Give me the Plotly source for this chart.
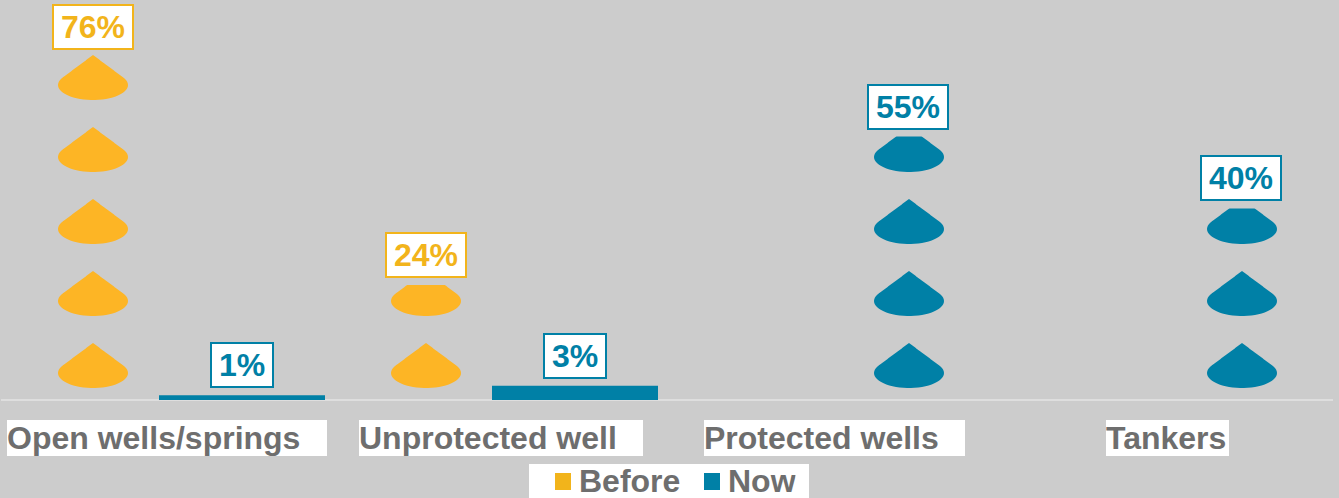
import numpy as np
import plotly.graph_objects as go

categories = ["Open wells/springs", "Unprotected well", "Protected wells", "Tankers"]
series_names = ["Before", "Now"]
before = [76, 24, 0, 0]
now = [1, 3, 55, 40]

BEFORE_ICON = "#FDB525"
BEFORE_EDGE = "#F2B41B"
NOW_COLOR = "#0080A6"
TEXT = "#6E6E6E"
BG = "#CCCCCC"
FONT = "Liberation Sans"

W, H = 1339, 498
ML, MR, MT, MB = 1, 6, 0, 98
PW, PH = W - ML - MR, H - MT - MB
CAT_PX = PW / 4
PX_PER_PCT = 4.79
CELL = 72 / PX_PER_PCT
OFFSET = 74.5 / CAT_PX
BAR_W = 166 / CAT_PX
MIN_ICON = 5


def px2x(p):
    return p / CAT_PX


def px2y(p):
    return p / PX_PER_PCT


def paper_x(p):
    return (p - ML) / PW


def paper_y(p):
    return (PH + MT - p) / PH


def icon_outline(cx, base):
    t = np.radians(np.linspace(149, 391, 40))
    ex = 35 * np.cos(t)
    ey = 15 + 15 * np.sin(t)
    # straight cone edges sampled finely so the flat-top clip stays straight
    s = np.linspace(0, 1, 30)[1:-1]
    left_x, left_y = ex[0] * s, 45 + (ey[0] - 45) * s
    right_x, right_y = ex[-1] * s[::-1], 45 + (ey[-1] - 45) * s[::-1]
    xs = np.concatenate([[0], left_x, ex, right_x, [0]])
    ys = np.concatenate([[45], left_y, ey, right_y, [45]])
    return cx + px2x(xs), base + px2y(ys)


def icons(values, shift):
    X, Y = [], []
    for i, v in enumerate(values):
        if v < MIN_ICON:
            continue
        k = 0
        while k * CELL + px2y(12) < v:
            xs, ys = icon_outline(i + shift, k * CELL + px2y(12))
            X += list(xs) + [None]
            Y += list(np.minimum(ys, v)) + [None]
            k += 1
    return X, Y


fig = go.Figure()
for name, vals, shift, icon_nudge, col in [
    (series_names[0], before, -OFFSET, 0, BEFORE_ICON),
    (series_names[1], now, OFFSET, 1, NOW_COLOR),
]:
    X, Y = icons(vals, shift + px2x(icon_nudge))
    fig.add_trace(go.Scatter(x=X, y=Y, mode="none", fill="toself", fillcolor=col, name=name,
                             showlegend=False, hoverinfo="skip"))
    small = [(i + shift, v) for i, v in enumerate(vals) if 0 < v < MIN_ICON]
    if small:
        fig.add_trace(go.Bar(x=[s[0] for s in small], y=[s[1] for s in small], name=name,
                             width=BAR_W, marker=dict(color=col, line_width=0),
                             showlegend=False))

annotations = []
for vals, shift, edge in [(before, -OFFSET, BEFORE_EDGE), (now, OFFSET, NOW_COLOR)]:
    for i, v in enumerate(vals):
        if v == 0:
            continue
        annotations.append(dict(
            x=i + shift, y=min(v, 71.7), xref="x", yref="y", text=f"<b>{v}%</b>",
            showarrow=False, yanchor="bottom", xanchor="center", yshift=7,
            font=dict(family=FONT, size=32, color=edge), bgcolor="white",
            bordercolor=edge, borderwidth=2, borderpad=0,
            width=(78 if v >= 10 else 60), height=42, align="center"))

label_boxes = [(7, 320), (359, 284), (704, 261), (1106, 123)]
for name, (left, width) in zip(categories, label_boxes):
    annotations.append(dict(
        x=paper_x(left), y=paper_y(438), xref="paper", yref="paper",
        text=f"<b>{name}</b>", showarrow=False, xanchor="left", yanchor="middle",
        font=dict(family=FONT, size=32, color=TEXT), bgcolor="white",
        width=width, height=36, align="left", borderpad=0, borderwidth=0))

shapes = [dict(type="rect", xref="paper", yref="paper", layer="below", line_width=0,
               fillcolor="white", x0=paper_x(529), x1=paper_x(809),
               y0=paper_y(464), y1=paper_y(498))]
for name, swatch_left, text_left, col in [
    (series_names[0], 555, 578, BEFORE_EDGE),
    (series_names[1], 704, 727, NOW_COLOR),
]:
    shapes.append(dict(type="rect", xref="paper", yref="paper", line_width=0, fillcolor=col,
                       x0=paper_x(swatch_left), x1=paper_x(swatch_left + 16),
                       y0=paper_y(473), y1=paper_y(490)))
    annotations.append(dict(
        x=paper_x(text_left), y=paper_y(480.5), xref="paper", yref="paper",
        text=f"<b>{name}</b>", showarrow=False, xanchor="left", yanchor="middle",
        font=dict(family=FONT, size=32, color=TEXT), height=34, borderpad=0, align="left"))

fig.update_layout(
    width=W, height=H, margin=dict(l=ML, r=MR, t=MT, b=MB, autoexpand=False),
    paper_bgcolor=BG, plot_bgcolor=BG, barmode="overlay", showlegend=False,
    xaxis=dict(range=[-0.5, 3.5], visible=False),
    yaxis=dict(range=[0, PH / PX_PER_PCT], showgrid=False, showticklabels=False,
               zeroline=True, zerolinecolor="#DEDEDE", zerolinewidth=2, ticks=""),
    shapes=shapes,
    annotations=annotations,
)
fig.write_html("out.html", config={"displayModeBar": False},
               post_script="document.body.style.margin='0';document.body.style.overflow='hidden';")
